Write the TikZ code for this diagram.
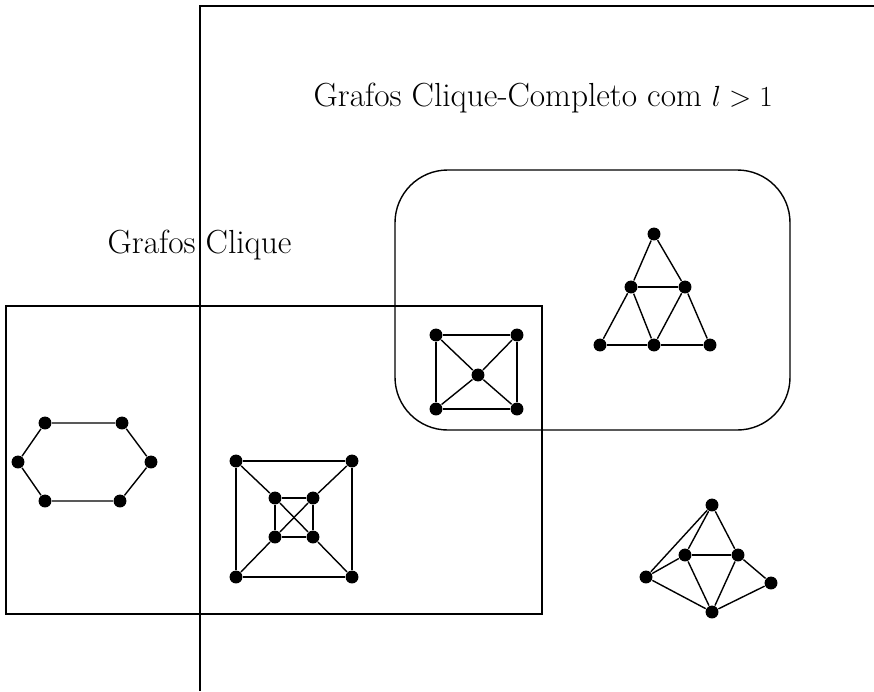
\documentclass[tikz,border=0pt]{standalone}
\usepackage{amsmath,amssymb}
\usepackage{tikz}

\begin{document}
\begin{tikzpicture}[x=0.03cm, y=-0.03cm, line width=1.2pt,
  vtx/.style={circle, fill=black, inner sep=0pt, minimum size=11pt},
  lbl/.style={font=\fontsize{28.5}{32}\selectfont, inner sep=0pt}]

  \useasboundingbox (0,0) rectangle (874,691);

  % Outer region (Grafos Clique-Completo com l > 1 and beyond)
  \draw (200,691) -- (200,6) -- (874,6);
  \node[lbl, anchor=west] (tcc) at (313,98) {Grafos Clique-Completo com $l > 1$};

  % Rounded region
  \draw[rounded corners=45] (395,170) rectangle (790,430);

  % Grafos Clique region
  \draw (6,306) rectangle (542,614);
  \node[lbl, anchor=west] (tgc) at (107,245) {Grafos Clique};

  % Triangle graph
  \node[vtx] (a1) at (654,234) {};
  \node[vtx] (a2) at (631,287) {};
  \node[vtx] (a3) at (685,287) {};
  \node[vtx] (a4) at (600,345) {};
  \node[vtx] (a5) at (654,345) {};
  \node[vtx] (a6) at (710,345) {};
  \foreach \u/\v in {a1/a2, a1/a3, a2/a3, a2/a4, a2/a5, a3/a5, a3/a6, a4/a5, a5/a6}
    \draw (\u) -- (\v);

  % Wheel graph
  \node[vtx] (b1) at (436,335) {};
  \node[vtx] (b2) at (517,335) {};
  \node[vtx] (b3) at (436,409) {};
  \node[vtx] (b4) at (517,409) {};
  \node[vtx] (b0) at (478,375) {};
  \foreach \u/\v in {b1/b2, b2/b4, b4/b3, b3/b1, b0/b1, b0/b2, b0/b3, b0/b4}
    \draw (\u) -- (\v);

  % Hexagon
  \node[vtx] (h1) at (45,423) {};
  \node[vtx] (h2) at (122,423) {};
  \node[vtx] (h3) at (151,462) {};
  \node[vtx] (h4) at (120,501) {};
  \node[vtx] (h5) at (45,501) {};
  \node[vtx] (h6) at (18,462) {};
  \draw (h1) -- (h2) -- (h3) -- (h4) -- (h5) -- (h6) -- (h1);

  % Nested squares
  \node[vtx] (s1) at (236,461) {};
  \node[vtx] (s2) at (352,461) {};
  \node[vtx] (s3) at (352,577) {};
  \node[vtx] (s4) at (236,577) {};
  \node[vtx] (t1) at (275,498) {};
  \node[vtx] (t2) at (313,498) {};
  \node[vtx] (t3) at (313,537) {};
  \node[vtx] (t4) at (275,537) {};
  \draw (s1) -- (s2) -- (s3) -- (s4) -- (s1);
  \draw (t1) -- (t2) -- (t3) -- (t4) -- (t1);
  \foreach \u/\v in {s1/t1, s2/t2, s3/t3, s4/t4, t1/t3, t2/t4}
    \draw (\u) -- (\v);

  % Last graph
  \node[vtx] (c1) at (712,505) {};
  \node[vtx] (c2) at (685,555) {};
  \node[vtx] (c3) at (738,555) {};
  \node[vtx] (c4) at (646,577) {};
  \node[vtx] (c5) at (771,583) {};
  \node[vtx] (c6) at (712,612) {};
  \foreach \u/\v in {c1/c2, c1/c3, c1/c4, c2/c3, c2/c4, c2/c6, c3/c6, c3/c5, c4/c6, c5/c6}
    \draw (\u) -- (\v);

\end{tikzpicture}
\end{document}
